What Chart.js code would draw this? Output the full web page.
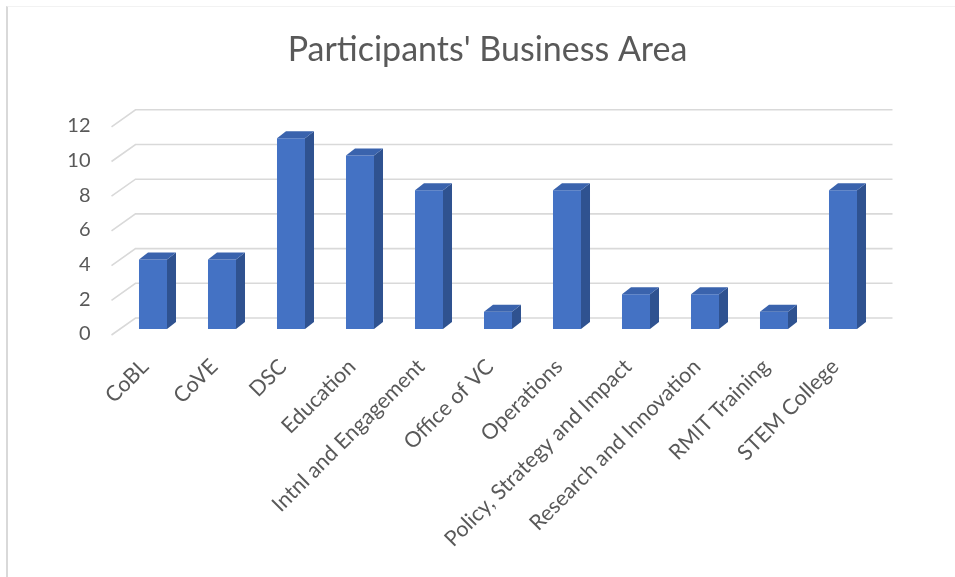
<!DOCTYPE html>
<html>
<head>
<meta charset="utf-8">
<script src="https://cdn.jsdelivr.net/npm/chart.js@4/dist/chart.umd.min.js"></script>
<style>
  html, body { margin: 0; padding: 0; background: #ffffff; }
  #wrap { position: relative; width: 955px; height: 577px; overflow: hidden; }
  #frame { position: absolute; left: 6px; top: 6px; width: 960px; height: 580px;
           border-left: 2px solid #d9d9d9; border-top: 1px solid #f2f2f2; box-sizing: border-box; }
  canvas { position: absolute; left: 0; top: 0; }
</style>
</head>
<body>
<div id="wrap">
  <div id="frame"></div>
  <canvas id="chart" width="955" height="577"></canvas>
</div>
<script>
// Business areas of the participants and their head counts
const categories = [
  'CoBL', 'CoVE', 'DSC', 'Education', 'Intnl and Engagement', 'Office of VC',
  'Operations', 'Policy, Strategy and Impact', 'Research and Innovation',
  'RMIT Training', 'STEM College'
];
const participants = [4, 4, 11, 10, 8, 1, 8, 2, 2, 1, 8];
const yTicks = [0, 2, 4, 6, 8, 10, 12];

const FRONT = '#4472c4';
const SIDE = '#2f5290';
const TOP = '#3a63ad';
const GRID = '#d9d9d9';
const TEXT = '#595959';
const FONT = 'Lato, "Open Sans", sans-serif';

// depth of each column
const colDX = 9, colDY = -7;

// Back-wall gridlines with the slanted side-wall segment on the left
const wallGrid = {
  id: 'wallGrid',
  beforeDatasetsDraw(chart) {
    const { ctx, chartArea, scales } = chart;
    const y = scales.y;
    ctx.save();
    ctx.strokeStyle = GRID;
    ctx.lineWidth = 1.6;
    yTicks.forEach(v => {
      const py = y.getPixelForValue(v);
      ctx.beginPath();
      ctx.moveTo(chartArea.left - 7, py + 6);
      ctx.lineTo(chartArea.left + 17, py - 11);
      ctx.lineTo(chartArea.right + 15, py - 11);
      ctx.stroke();
    });
    ctx.restore();
  }
};

// Side and top faces give each column its depth
const columnFaces = {
  id: 'columnFaces',
  afterDatasetsDraw(chart) {
    const { ctx } = chart;
    const meta = chart.getDatasetMeta(0);
    ctx.save();
    meta.data.forEach(bar => {
      const { x, y, base, width } = bar.getProps(['x', 'y', 'base', 'width'], true);
      const l = x - width / 2, r = x + width / 2;
      ctx.fillStyle = SIDE;
      ctx.beginPath();
      ctx.moveTo(r, y);
      ctx.lineTo(r + colDX, y + colDY);
      ctx.lineTo(r + colDX, base + colDY);
      ctx.lineTo(r, base);
      ctx.closePath();
      ctx.fill();
      ctx.fillStyle = TOP;
      ctx.beginPath();
      ctx.moveTo(l, y);
      ctx.lineTo(l + colDX, y + colDY);
      ctx.lineTo(r + colDX, y + colDY);
      ctx.lineTo(r, y);
      ctx.closePath();
      ctx.fill();
    });
    ctx.restore();
  }
};

new Chart(document.getElementById('chart'), {
  type: 'bar',
  data: {
    labels: categories,
    datasets: [{
      data: participants,
      backgroundColor: FRONT,
      borderWidth: 0,
      categoryPercentage: 1,
      barPercentage: 0.406
    }]
  },
  options: {
    responsive: false,
    animation: false,
    events: [],
    layout: { padding: { left: 20, right: 0, top: 0, bottom: 0 } },
    plugins: {
      legend: { display: false },
      tooltip: { enabled: false },
      title: {
        display: true,
        text: "Participants' Business Area",
        color: TEXT,
        font: { family: FONT, size: 34, weight: 'normal' },
        padding: { top: 30, bottom: 50 }
      }
    },
    scales: {
      x: {
        grid: { display: false, drawTicks: false },
        border: { display: false },
        ticks: {
          color: TEXT,
          font: { family: FONT, size: 21.5 },
          minRotation: 45,
          maxRotation: 45,
          padding: 25,
          labelOffset: -8,
          autoSkip: false
        },
        afterFit(scale) { scale.height = 248; }
      },
      y: {
        min: 0,
        max: 12,
        grid: { display: false, drawTicks: false },
        border: { display: false },
        ticks: {
          stepSize: 2,
          color: TEXT,
          font: { family: FONT, size: 20 },
          padding: 28,
          labelOffset: 5
        },
        afterFit(scale) { scale.width = 98.5; }
      },
      // empty right-hand margin so the back wall has room behind the last column
      yMargin: {
        position: 'right',
        display: true,
        grid: { display: false, drawTicks: false },
        border: { display: false },
        ticks: { display: false },
        afterFit(scale) { scale.width = 77.5; }
      }
    }
  },
  plugins: [wallGrid, columnFaces]
});
</script>
</body>
</html>
